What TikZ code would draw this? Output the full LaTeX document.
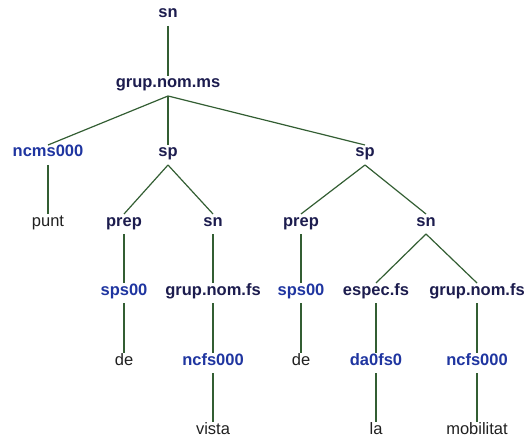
\documentclass[tikz,border=0pt]{standalone}
\usepackage{fontspec}
\setmainfont{Liberation Sans}
\definecolor{catnavy}{HTML}{1C1C4E}
\definecolor{tagblue}{HTML}{1F35A0}
\definecolor{wordgray}{HTML}{202020}
\definecolor{branchgreen}{HTML}{335E33}
\begin{document}
\begin{tikzpicture}[x=1pt,y=-1pt,
  lbl/.style={inner sep=0pt,outer sep=4pt,text height=8pt,text depth=4pt,font=\fontsize{16.5}{18}\selectfont},
  cat/.style={lbl,text=catnavy,font=\fontsize{16.5}{18}\selectfont\bfseries},
  tag/.style={lbl,text=tagblue,font=\fontsize{16.5}{18}\selectfont\bfseries},
  word/.style={lbl,text=wordgray},
  branch/.style={draw=branchgreen,line width=1.2pt}]
\useasboundingbox (0,0) rectangle (526,443);
%levels 1-2
\node[cat] (sn0) at (168,16) {sn};
\node[cat] (gnms) at (168,86) {grup.nom.ms};
%level 3
\node[tag] (ncms) at (48,155) {ncms000};
\node[cat] (spA) at (168,155) {sp};
\node[cat] (spB) at (365,155) {sp};
%level 4
\node[word] (punt) at (48,224) {punt};
\node[cat] (prepA) at (124,224) {prep};
\node[cat] (snA) at (213,224) {sn};
\node[cat] (prepB) at (301,224) {prep};
\node[cat] (snB) at (426,224) {sn};
%level 5
\node[tag] (spsA) at (124,293) {sps00};
\node[cat] (gnfsA) at (213,293) {grup.nom.fs};
\node[tag] (spsB) at (301,293) {sps00};
\node[cat] (espec) at (376,293) {espec.fs};
\node[cat] (gnfsB) at (477,293) {grup.nom.fs};
%level 6
\node[word] (deA) at (124,363) {de};
\node[tag] (ncfsA) at (213,363) {ncfs000};
\node[word] (deB) at (301,363) {de};
\node[tag] (da0) at (376,363) {da0fs0};
\node[tag] (ncfsB) at (477,363) {ncfs000};
%level 7
\node[word] (vista) at (213,432) {vista};
\node[word] (la) at (376,432) {la};
\node[word] (mob) at (477,432) {mobilitat};
%branches
\foreach \p/\c in {sn0/gnms,gnms/ncms,gnms/spA,gnms/spB,ncms/punt,
  spA/prepA,spA/snA,spB/prepB,spB/snB,prepA/spsA,snA/gnfsA,prepB/spsB,
  snB/espec,snB/gnfsB,spsA/deA,gnfsA/ncfsA,spsB/deB,espec/da0,gnfsB/ncfsB,
  ncfsA/vista,da0/la,ncfsB/mob}
  \draw[branch] (\p.south) -- (\c.north);
\end{tikzpicture}
\end{document}
